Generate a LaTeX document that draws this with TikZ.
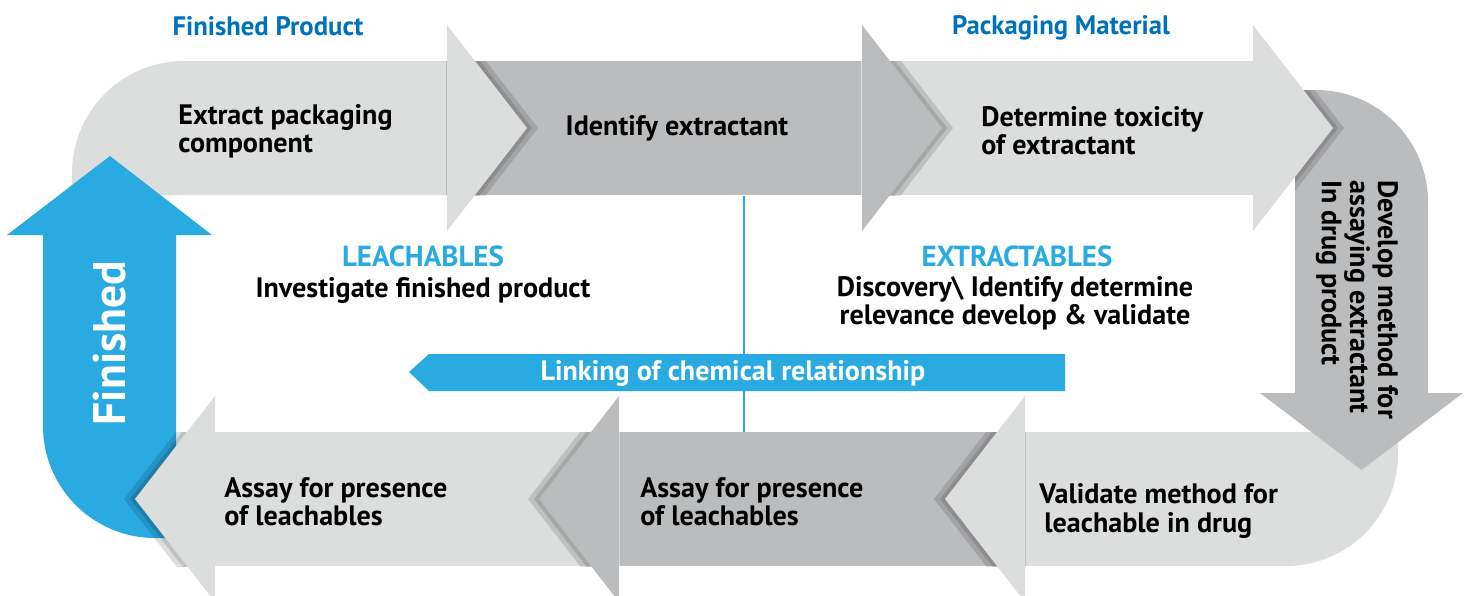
\documentclass[tikz,border=0pt]{standalone}
\usepackage{fontspec}
\setmainfont{PT Sans}
\usetikzlibrary{positioning}
\definecolor{lightgrey}{HTML}{DCDDDD}
\definecolor{darkgrey}{HTML}{BBBCBE}
\definecolor{skyblue}{HTML}{29ABE2}
\definecolor{titleblue}{HTML}{0071BC}

\begin{document}
\begin{tikzpicture}[x=0.2mm, y=-0.2mm,
    steptext/.style={font=\bfseries\fontsize{16}{16}\selectfont, align=left, inner sep=0pt},
    headtext/.style={font=\bfseries\fontsize{15.2}{16}\selectfont, text=titleblue, inner sep=0pt},
    sidetext/.style={font=\bfseries\fontsize{16.5}{16}\selectfont, text=skyblue, inner sep=0pt},
    shadowfill/.style={fill=black, opacity=0.13}]

    \useasboundingbox (0,0) rectangle (1464,595);

    % arrow bodies
    \fill[lightgrey] (72,195) -- (72,173) .. controls (72,111.2) and (122.2,61) .. (184,61) -- (447,61) -- (447,195) -- cycle;
    \fill[darkgrey] (446,61) rectangle (862,195);
    \fill[lightgrey] (861,61) rectangle (1254,195);
    \fill[darkgrey] (1295,393) -- (1295,90) -- (1316,90) .. controls (1377.8,90) and (1428,140.2) .. (1428,202) -- (1428,393) -- cycle;
    \fill[lightgrey] (1025,432) -- (1398,432) -- (1398,454) .. controls (1398,515.8) and (1347.8,566) .. (1286,566) -- (1025,566) -- cycle;
    \fill[darkgrey] (619,432) rectangle (1026,566);
    \fill[lightgrey] (215,432) rectangle (620,566);
    \fill[skyblue] (43,235) -- (43,426) .. controls (43,487.8) and (93.2,538) .. (155,538) -- (176,538) -- (176,235) -- cycle;

    % arrow heads with shadows
    \begin{scope}
        \clip (446,61) rectangle (862,195);
        \fill[shadowfill, shift={(5,0)}] (447,25) -- (527,128) -- (447,231) -- cycle;
        \fill[shadowfill, shift={(11,0)}] (447,25) -- (527,128) -- (447,231) -- cycle;
    \end{scope}
    \fill[lightgrey] (447,25) -- (527,128) -- (447,231) -- cycle;

    \begin{scope}
        \clip (861,61) rectangle (1254,195);
        \fill[shadowfill, shift={(5,0)}] (862,25) -- (942,128) -- (862,231) -- cycle;
        \fill[shadowfill, shift={(11,0)}] (862,25) -- (942,128) -- (862,231) -- cycle;
    \end{scope}
    \fill[darkgrey] (862,25) -- (942,128) -- (862,231) -- cycle;

    \begin{scope}
        \clip (1295,393) -- (1295,90) -- (1316,90) .. controls (1377.8,90) and (1428,140.2) .. (1428,202) -- (1428,393) -- cycle;
        \fill[shadowfill, shift={(5,0)}] (1253,25) -- (1333,128) -- (1253,231) -- cycle;
        \fill[shadowfill, shift={(11,0)}] (1253,25) -- (1333,128) -- (1253,231) -- cycle;
    \end{scope}
    \fill[lightgrey] (1253,25) -- (1333,128) -- (1253,231) -- cycle;

    \fill[darkgrey] (1260,393) -- (1361.5,470) -- (1463,393) -- cycle;

    \begin{scope}
        \clip (619,432) rectangle (1026,566);
        \fill[shadowfill, shift={(-5,0)}] (1025,396) -- (945,499) -- (1025,602) -- cycle;
        \fill[shadowfill, shift={(-11,0)}] (1025,396) -- (945,499) -- (1025,602) -- cycle;
    \end{scope}
    \fill[lightgrey] (1025,396) -- (945,499) -- (1025,602) -- cycle;

    \begin{scope}
        \clip (215,432) rectangle (620,566);
        \fill[shadowfill, shift={(-5,0)}] (619,396) -- (539,499) -- (619,602) -- cycle;
        \fill[shadowfill, shift={(-11,0)}] (619,396) -- (539,499) -- (619,602) -- cycle;
    \end{scope}
    \fill[darkgrey] (619,396) -- (539,499) -- (619,602) -- cycle;

    \begin{scope}
        \clip (60,432) rectangle (216,566);
        \fill[shadowfill, shift={(-5,0)}] (215,396) -- (135,499) -- (215,602) -- cycle;
        \fill[shadowfill, shift={(-11,0)}] (215,396) -- (135,499) -- (215,602) -- cycle;
    \end{scope}
    \fill[lightgrey] (215,396) -- (135,499) -- (215,602) -- cycle;

    \fill[skyblue] (7,235) -- (110,156) -- (212,235) -- cycle;

    % divider and link bar
    \coordinate (divtop) at (744,196);
    \coordinate (divbottom) at (744,432);
    \draw[skyblue, line width=0.4mm] (divtop) -- (divbottom);
    \fill[skyblue] (409,372) -- (429,354) -- (1065,354) -- (1065,391) -- (429,391) -- cycle;
    \node[text=white, font=\bfseries\fontsize{16}{16}\selectfont, inner sep=0pt] (linking) at (733,373) {Linking of chemical relationship};

    % texts
    \node[headtext] (fpTitle) at (268,26) {Finished Product};
    \node[headtext] (pmTitle) at (1061,28) {Packaging Material};

    \node[steptext, anchor=west] (extract) at (178,131) {Extract packaging\\component};
    \node[steptext] (identify) at (677,128) {Identify extractant};
    \node[steptext, anchor=west] (toxicity) at (981,131) {Determine toxicity\\of extractant};
    \node[steptext, rotate=-90, anchor=west] (develop) at (1357,180) {Develop method for\\assaying extractant\\In drug product};
    \node[steptext, anchor=west] (validate) at (1039,511) {Validate method for\\\hspace*{1mm}leachable in drug};
    \node[steptext, anchor=west] (assaymid) at (640,502) {Assay for presence\\of leachables};
    \node[steptext, anchor=west] (assayleft) at (224,502) {Assay for presence\\of leachables};
    \node[text=white, font=\bfseries\fontsize{26}{30}\selectfont, rotate=90, inner sep=0pt] (finished) at (110,343) {Finished};

    \node[sidetext] (leach) at (423,256) {LEACHABLES};
    \node[steptext, align=center] (investigate) at (423,290) {Investigate finished product};
    \node[sidetext] (extr) at (1017,256) {EXTRACTABLES};
    \node[steptext, align=center] (discovery) at (1015,303) {Discovery\textbackslash{} Identify determine\\relevance develop \& validate};
\end{tikzpicture}
\end{document}
